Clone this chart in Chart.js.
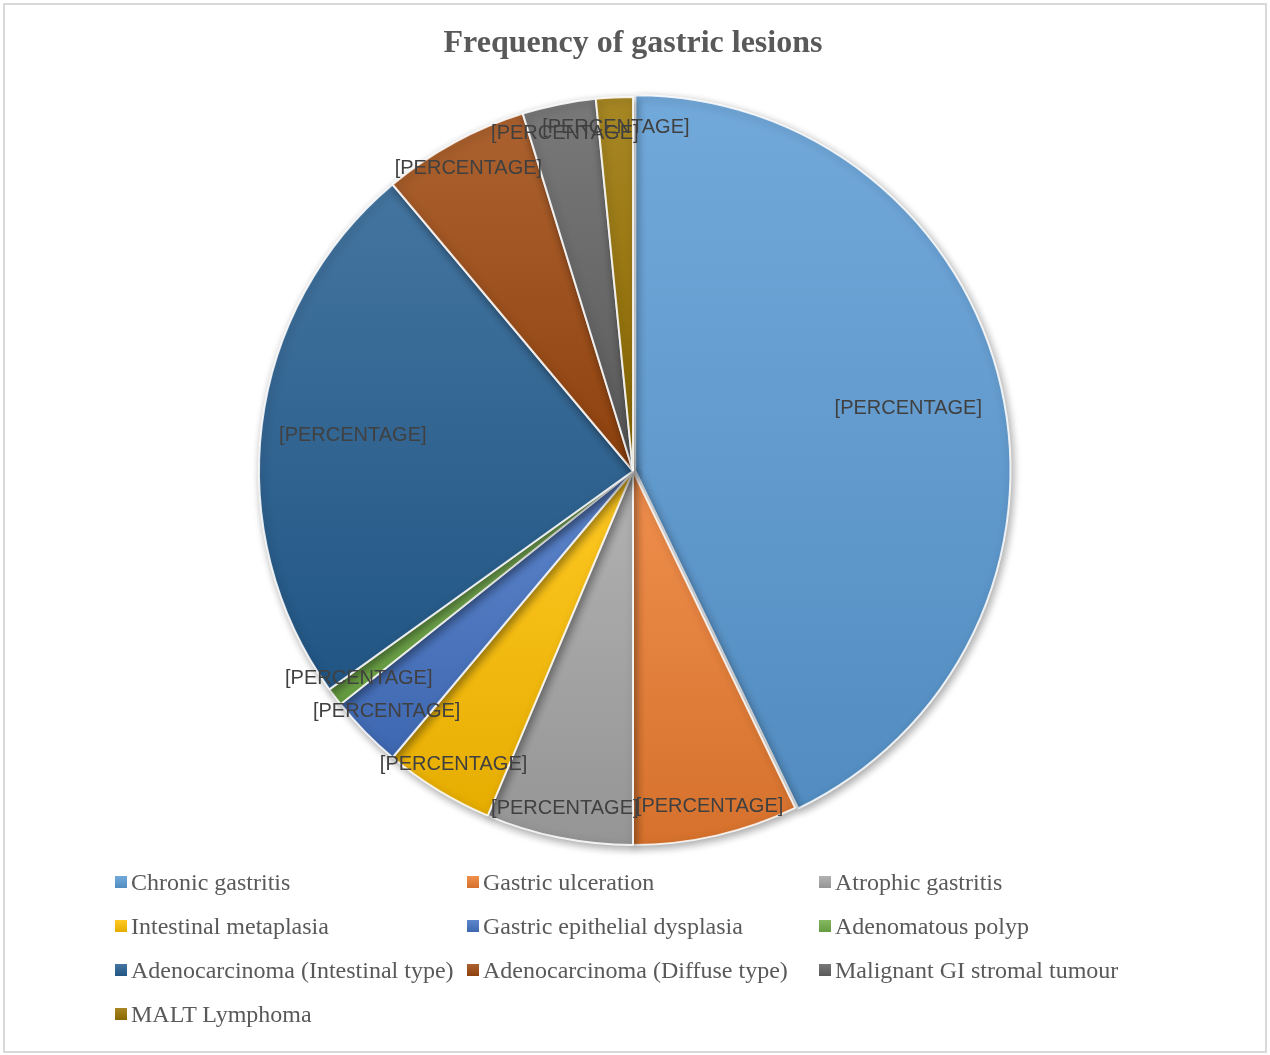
<!DOCTYPE html>
<html>
<head>
<meta charset="utf-8">
<script src="https://cdn.jsdelivr.net/npm/chart.js@4"></script>
<style>
  body { margin: 0; background: #fff; }
  #wrap { position: relative; width: 1270px; height: 1055px; overflow: hidden; }
  #frame { position: absolute; left: 3px; top: 3px; width: 1260px; height: 1046px; border: 2px solid #d9d9d9; }
  #chartContainer { position: absolute; left: 0; top: 0; }
  #legend { position: absolute; left: 115px; top: 866px; display: grid;
    grid-template-columns: 352px 352px 352px; grid-auto-rows: 44px;
    font-family: "Liberation Serif", "Times New Roman", serif; font-size: 24px; color: #595959; }
  #legend div { display: flex; align-items: center; white-space: nowrap; height: 32px; }
  #legend span.box { display: inline-block; width: 12px; height: 12px; margin-right: 4px; }
</style>
</head>
<body>
<div id="wrap">
  <div id="frame"></div>
  <canvas id="chartContainer" width="1270" height="1055"></canvas>
  <div id="legend"></div>
</div>
<script>
"use strict";

// 1: data
let lesions = ['Chronic gastritis', 'Gastric ulceration', 'Atrophic gastritis',
  'Intestinal metaplasia', 'Gastric epithelial dysplasia', 'Adenomatous polyp',
  'Adenocarcinoma (Intestinal type)', 'Adenocarcinoma (Diffuse type)',
  'Malignant GI stromal tumour', 'MALT Lymphoma'];
let cases = [54, 9, 8, 6, 4, 1, 30, 8, 4, 2];
let colours = ['#5b9bd5', '#ed7d31', '#a5a5a5', '#ffc000', '#4472c4', '#70ad47',
  '#255e91', '#9e480e', '#636363', '#997300'];
let sliceLabel = '[PERCENTAGE]';

// 2: helpers
function shade(hex, amt) {
  let n = parseInt(hex.slice(1), 16);
  let r = n >> 16, g = (n >> 8) & 255, b = n & 255;
  function f(c) {
    return Math.round(amt >= 0 ? c + (255 - c) * amt : c * (1 + amt));
  }
  return 'rgb(' + f(r) + ',' + f(g) + ',' + f(b) + ')';
}

let total = cases.reduce((a, b) => a + b, 0);

// vertical gradient over each slice, lighter at the top like the Office fill
function sliceFill(context) {
  let chart = context.chart;
  let area = chart.chartArea;
  let i = context.dataIndex;
  if (!area) return colours[i];
  let cx = (area.left + area.right) / 2;
  let cy = (area.top + area.bottom) / 2;
  let r = (Math.min(area.right - area.left, area.bottom - area.top) - 11) / 2;
  let before = 0;
  for (let k = 0; k < i; k++) before += cases[k];
  let a0 = -Math.PI / 2 + before / total * Math.PI * 2;
  let a1 = a0 + cases[i] / total * Math.PI * 2;
  let ymin = cy, ymax = cy;
  for (let s = 0; s <= 40; s++) {
    let y = cy + Math.sin(a0 + (a1 - a0) * s / 40) * r;
    ymin = Math.min(ymin, y);
    ymax = Math.max(ymax, y);
  }
  let grad = chart.ctx.createLinearGradient(0, ymin, 0, ymax);
  grad.addColorStop(0, shade(colours[i], 0.14));
  grad.addColorStop(1, shade(colours[i], -0.1));
  return grad;
}

// 3: plugins
let shadowPlugin = {
  id: 'sliceShadow',
  beforeDatasetsDraw(chart) {
    let ctx = chart.ctx;
    ctx.save();
    ctx.shadowColor = 'rgba(0,0,0,0.35)';
    ctx.shadowBlur = 9;
    ctx.shadowOffsetX = 2;
    ctx.shadowOffsetY = 3;
  },
  afterDatasetsDraw(chart) {
    chart.ctx.restore();
  }
};

let labelPlugin = {
  id: 'sliceLabels',
  afterDraw(chart) {
    let ctx = chart.ctx;
    let meta = chart.getDatasetMeta(0);
    ctx.save();
    ctx.font = '20px "Liberation Sans", Arial, sans-serif';
    ctx.fillStyle = '#404040';
    ctx.textAlign = 'center';
    ctx.textBaseline = 'middle';
    meta.data.forEach(function (arc, i) {
      let p = arc.getProps(['x', 'y', 'startAngle', 'endAngle', 'outerRadius'], true);
      let mid = (p.startAngle + p.endAngle) / 2;
      let frac = cases[i] / total > 0.2 ? 0.755 : 0.92;
      ctx.fillText(sliceLabel, p.x + Math.cos(mid) * p.outerRadius * frac,
        p.y + Math.sin(mid) * p.outerRadius * frac);
    });
    ctx.restore();
  }
};

// 4: chart
let chart = new Chart(document.getElementById('chartContainer'), {
  type: 'pie',
  data: {
    labels: lesions,
    datasets: [{
      data: cases,
      backgroundColor: sliceFill,
      borderColor: 'rgba(255,255,255,0.85)',
      borderWidth: 2,
      offset: lesions.map((l, i) => i === 0 ? 9 : 0)
    }]
  },
  options: {
    responsive: false,
    animation: false,
    layout: { padding: { top: 0, left: 0, right: 4, bottom: 204.5 } },
    plugins: {
      legend: { display: false },
      tooltip: { enabled: false },
      title: {
        display: true,
        text: 'Frequency of gastric lesions',
        color: '#595959',
        font: { family: '"Liberation Serif", "Times New Roman", serif', size: 32, weight: 'bold', lineHeight: 1.2 },
        padding: { top: 24.8, bottom: 28.3 }
      }
    }
  },
  plugins: [shadowPlugin, labelPlugin]
});

// 5: legend
let legend = document.getElementById('legend');
lesions.forEach(function (name, i) {
  let item = document.createElement('div');
  item.innerHTML = '<span class="box" style="background:linear-gradient(' +
    shade(colours[i], 0.14) + ',' + shade(colours[i], -0.1) + ')"></span>' + name;
  legend.appendChild(item);
});
</script>
</body>
</html>
